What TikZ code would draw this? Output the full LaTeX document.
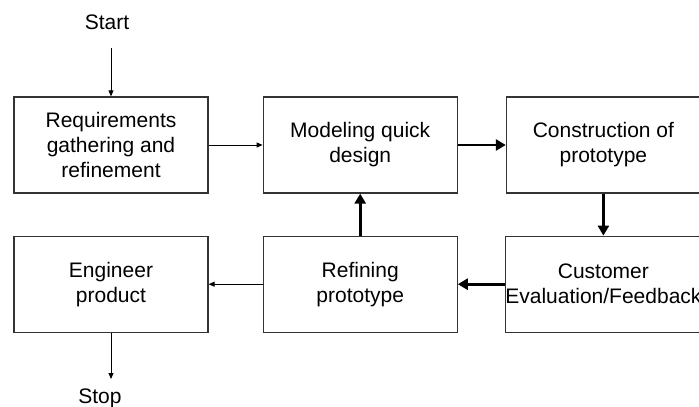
\documentclass[tikz,border=0pt]{standalone}
\usepackage{fontspec}
\setmainfont{Liberation Sans}
\usetikzlibrary{positioning,arrows.meta}

\begin{document}
\begin{tikzpicture}
    \tikzstyle{stage}=[rectangle, draw=black!80, line width=1.2pt, minimum width=194pt, minimum height=96pt, inner sep=0pt, align=center, font=\fontsize{21}{25}\selectfont]
    \tikzstyle{term}=[inner sep=0pt, font=\fontsize{21}{25}\selectfont]
    \tikzstyle{thin}=[line width=0.8pt, -{Triangle[length=6pt,width=5pt]}]
    \tikzstyle{thick}=[line width=2.8pt, -{Triangle[length=10pt,width=11pt]}]
    \useasboundingbox (0pt,0pt) rectangle (699pt,-407pt);
    % top row
    \node[stage] (req) at (111pt,-145pt) {Requirements\\gathering and\\refinement};
    \node[stage, right=54pt of req] (model) {Modeling quick\\design};
    \node[stage, right=48pt of model] (build) {Construction of\\prototype};
    % bottom row
    \node[stage, below=42pt of build] (eval) {Customer\\Evaluation/Feedback};
    \node[stage, below=42pt of model] (refine) {Refining\\prototype};
    \node[stage, below=42pt of req] (product) {Engineer\\product};
    % start and stop
    \node[term] (start) at (107pt,-22pt) {Start};
    \node[term] (stop) at (100pt,-398pt) {Stop};
    \coordinate (startend) at (111pt,-48pt);
    \coordinate (stopend) at (111pt,-379pt);
    \draw[thin] (startend) -- (req.north);
    \draw[thin] (req) -- (model);
    \draw[thick] (model) -- (build);
    \draw[thick] (build) -- (eval);
    \draw[thick] (eval) -- (refine);
    \draw[thick] (refine) -- (model);
    \draw[thin] (refine) -- (product);
    \draw[thin] (product.south) -- (stopend);
\end{tikzpicture}
\end{document}
